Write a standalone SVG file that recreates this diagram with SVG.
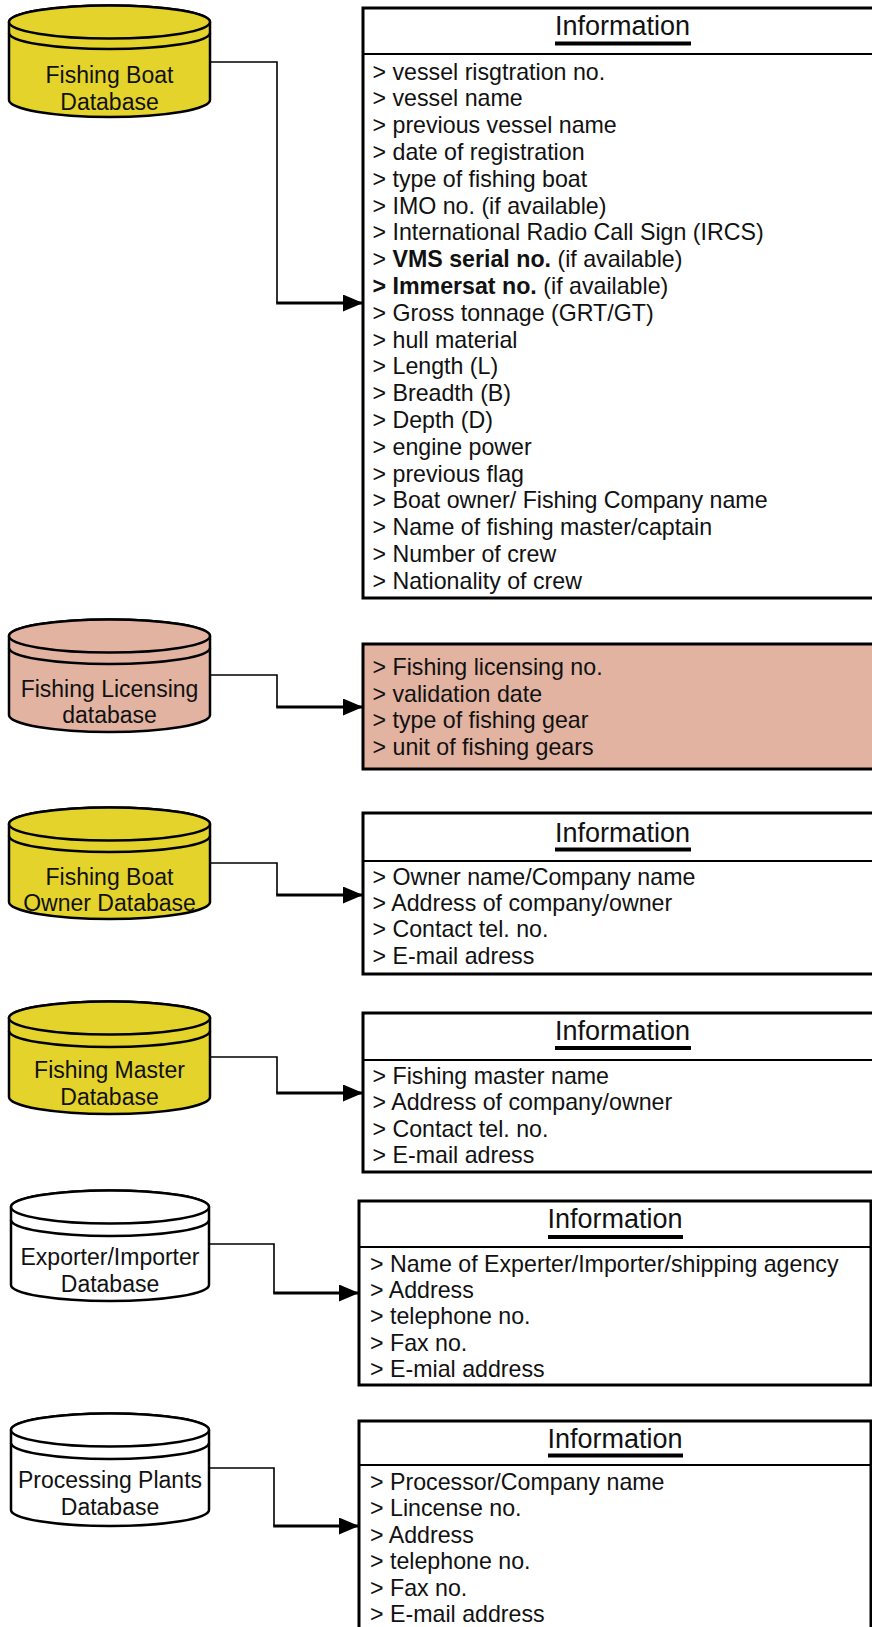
<svg xmlns="http://www.w3.org/2000/svg" width="872" height="1627" viewBox="0 0 872 1627">
  <style>
    text { font-family: "Liberation Sans", Arial, sans-serif; fill: #111; }
    .lbl { font-size: 23px; text-anchor: middle; }
    .item { font-size: 23.2px; }
    .hdr { font-size: 27px; text-anchor: middle; }
    .b { font-weight: bold; }
    .cyl { stroke: #000; stroke-width: 2.5; }
    .yellow { fill: #E3D32B; }
    .pink { fill: #E2B3A1; }
    .white { fill: #fff; }
    .arc { fill: none; stroke: #000; stroke-width: 2.5; }
    .box { fill: #fff; stroke: #000; stroke-width: 3; }
    .boxp { fill: #E2B3A1; stroke: #000; stroke-width: 3; }
    .div { stroke: #000; stroke-width: 2; }
    .ul { fill: #000; }
    .wire { fill: none; stroke: #000; stroke-width: 1.6; }
    .wire-end { fill: none; stroke: #000; stroke-width: 3; marker-end: url(#arrow); }
  </style>
  <defs>
    <marker id="arrow" markerUnits="userSpaceOnUse" viewBox="0 0 20 17" refX="20" refY="8.5" markerWidth="20" markerHeight="17" orient="auto">
      <path d="M0,0 L20,8.5 L0,17 Z" fill="#000"/>
    </marker>
  </defs>

  <!-- database cylinders -->
  <g id="db-fishing-boat">
    <path class="cyl yellow" d="M9,22 V100 A100.5,17 0 0 0 210,100 V22 A100.5,16.5 0 0 0 9,22 Z"/>
    <ellipse class="cyl yellow" cx="109.5" cy="22" rx="100.5" ry="16.5"/>
    <path class="arc" d="M9,33 A100.5,16 0 0 0 210,33"/>
    <text class="lbl" x="109.5" y="83">Fishing Boat</text>
    <text class="lbl" x="109.5" y="110">Database</text>
  </g>

  <g id="db-fishing-licensing">
    <path class="cyl pink" d="M9,636 V715 A100.5,17 0 0 0 210,715 V636 A100.5,16.5 0 0 0 9,636 Z"/>
    <ellipse class="cyl pink" cx="109.5" cy="636" rx="100.5" ry="16.5"/>
    <path class="arc" d="M9,648 A100.5,16 0 0 0 210,648"/>
    <text class="lbl" x="109.5" y="697">Fishing Licensing</text>
    <text class="lbl" x="109.5" y="723">database</text>
  </g>

  <g id="db-boat-owner">
    <path class="cyl yellow" d="M9,824 V902 A100.5,17 0 0 0 210,902 V824 A100.5,16.5 0 0 0 9,824 Z"/>
    <ellipse class="cyl yellow" cx="109.5" cy="824" rx="100.5" ry="16.5"/>
    <path class="arc" d="M9,836 A100.5,16 0 0 0 210,836"/>
    <text class="lbl" x="109.5" y="885">Fishing Boat</text>
    <text class="lbl" x="109.5" y="911">Owner Database</text>
  </g>

  <g id="db-fishing-master">
    <path class="cyl yellow" d="M9,1018 V1097 A100.5,17 0 0 0 210,1097 V1018 A100.5,16.5 0 0 0 9,1018 Z"/>
    <ellipse class="cyl yellow" cx="109.5" cy="1018" rx="100.5" ry="16.5"/>
    <path class="arc" d="M9,1031 A100.5,16 0 0 0 210,1031"/>
    <text class="lbl" x="109.5" y="1078">Fishing Master</text>
    <text class="lbl" x="109.5" y="1105">Database</text>
  </g>

  <g id="db-exporter-importer">
    <path class="cyl white" d="M11,1207 V1285 A99,16 0 0 0 209,1285 V1207 A99,16.5 0 0 0 11,1207 Z"/>
    <ellipse class="cyl white" cx="110" cy="1207" rx="99" ry="16.5"/>
    <path class="arc" d="M11,1220 A99,16 0 0 0 209,1220"/>
    <text class="lbl" x="110" y="1265">Exporter/Importer</text>
    <text class="lbl" x="110" y="1292">Database</text>
  </g>

  <g id="db-processing-plants">
    <path class="cyl white" d="M11,1430 V1510 A99,16 0 0 0 209,1510 V1430 A99,16.5 0 0 0 11,1430 Z"/>
    <ellipse class="cyl white" cx="110" cy="1430" rx="99" ry="16.5"/>
    <path class="arc" d="M11,1443 A99,16 0 0 0 209,1443"/>
    <text class="lbl" x="110" y="1488">Processing Plants</text>
    <text class="lbl" x="110" y="1515">Database</text>
  </g>

  <!-- information boxes -->
  <g id="info-fishing-boat">
    <rect class="box" x="363" y="8" width="519" height="590"/>
    <line class="div" x1="363" y1="54" x2="882" y2="54"/>
    <text class="hdr" x="622.5" y="35">Information</text>
    <rect class="ul" x="555" y="41.5" width="136" height="4"/>
    <text class="item" x="372.5" y="79.5">&gt; vessel risgtration no.</text>
    <text class="item" x="372.5" y="106.3">&gt; vessel name</text>
    <text class="item" x="372.5" y="133.1">&gt; previous vessel name</text>
    <text class="item" x="372.5" y="159.9">&gt; date of registration</text>
    <text class="item" x="372.5" y="186.7">&gt; type of fishing boat</text>
    <text class="item" x="372.5" y="213.5">&gt; IMO no. (if available)</text>
    <text class="item" x="372.5" y="240.3">&gt; International Radio Call Sign (IRCS)</text>
    <text class="item" x="372.5" y="267.1">&gt; <tspan class="b">VMS serial no.</tspan> (if available)</text>
    <text class="item" x="372.5" y="293.9"><tspan class="b">&gt; Immersat no.</tspan> (if available)</text>
    <text class="item" x="372.5" y="320.7">&gt; Gross tonnage (GRT/GT)</text>
    <text class="item" x="372.5" y="347.5">&gt; hull material</text>
    <text class="item" x="372.5" y="374.3">&gt; Length (L)</text>
    <text class="item" x="372.5" y="401.1">&gt; Breadth (B)</text>
    <text class="item" x="372.5" y="427.9">&gt; Depth (D)</text>
    <text class="item" x="372.5" y="454.7">&gt; engine power</text>
    <text class="item" x="372.5" y="481.5">&gt; previous flag</text>
    <text class="item" x="372.5" y="508.3">&gt; Boat owner/ Fishing Company name</text>
    <text class="item" x="372.5" y="535.1">&gt; Name of fishing master/captain</text>
    <text class="item" x="372.5" y="561.9">&gt; Number of crew</text>
    <text class="item" x="372.5" y="588.7">&gt; Nationality of crew</text>
  </g>

  <g id="info-fishing-licensing">
    <rect class="boxp" x="363" y="644" width="519" height="125"/>
    <text class="item" x="372.5" y="675">&gt; Fishing licensing no.</text>
    <text class="item" x="372.5" y="701.7">&gt; validation date</text>
    <text class="item" x="372.5" y="728.3">&gt; type of fishing gear</text>
    <text class="item" x="372.5" y="755">&gt; unit of fishing gears</text>
  </g>

  <g id="info-boat-owner">
    <rect class="box" x="363" y="813" width="519" height="161"/>
    <line class="div" x1="363" y1="861" x2="882" y2="861"/>
    <text class="hdr" x="622.5" y="842">Information</text>
    <rect class="ul" x="555" y="847.5" width="136" height="4"/>
    <text class="item" x="372.5" y="884.5">&gt; Owner name/Company name</text>
    <text class="item" x="372.5" y="911">&gt; Address of company/owner</text>
    <text class="item" x="372.5" y="937.3">&gt; Contact tel. no.</text>
    <text class="item" x="372.5" y="963.6">&gt; E-mail adress</text>
  </g>

  <g id="info-fishing-master">
    <rect class="box" x="363" y="1013" width="519" height="159"/>
    <line class="div" x1="363" y1="1060" x2="882" y2="1060"/>
    <text class="hdr" x="622.5" y="1040">Information</text>
    <rect class="ul" x="555" y="1046" width="136" height="4"/>
    <text class="item" x="372.5" y="1084">&gt; Fishing master name</text>
    <text class="item" x="372.5" y="1110.3">&gt; Address of company/owner</text>
    <text class="item" x="372.5" y="1136.6">&gt; Contact tel. no.</text>
    <text class="item" x="372.5" y="1163">&gt; E-mail adress</text>
  </g>

  <g id="info-exporter-importer">
    <rect class="box" x="359" y="1201" width="512" height="184"/>
    <line class="div" x1="359" y1="1247" x2="871" y2="1247"/>
    <text class="hdr" x="615" y="1228">Information</text>
    <rect class="ul" x="548" y="1235" width="135" height="4"/>
    <text class="item" x="370" y="1272">&gt; Name of Experter/Importer/shipping agency</text>
    <text class="item" x="370" y="1298">&gt; Address</text>
    <text class="item" x="370" y="1324.3">&gt; telephone no.</text>
    <text class="item" x="370" y="1350.6">&gt; Fax no.</text>
    <text class="item" x="370" y="1377">&gt; E-mial address</text>
  </g>

  <g id="info-processing-plants">
    <rect class="box" x="359" y="1421" width="512" height="230"/>
    <line class="div" x1="359" y1="1465" x2="871" y2="1465"/>
    <text class="hdr" x="615" y="1448">Information</text>
    <rect class="ul" x="548" y="1453.5" width="135" height="4"/>
    <text class="item" x="370" y="1489.5">&gt; Processor/Company name</text>
    <text class="item" x="370" y="1516">&gt; Lincense no.</text>
    <text class="item" x="370" y="1542.5">&gt; Address</text>
    <text class="item" x="370" y="1569">&gt; telephone no.</text>
    <text class="item" x="370" y="1595.5">&gt; Fax no.</text>
    <text class="item" x="370" y="1622">&gt; E-mail address</text>
  </g>

  <!-- connectors: database to its information box -->
  <g id="connectors">
    <path class="wire" d="M210,62 H277 V303"/>
    <path class="wire-end" d="M276.2,303 H363"/>
    <path class="wire" d="M210,675 H277 V707"/>
    <path class="wire-end" d="M276.2,707 H363"/>
    <path class="wire" d="M210,863 H277 V895"/>
    <path class="wire-end" d="M276.2,895 H363"/>
    <path class="wire" d="M210,1057 H277 V1093"/>
    <path class="wire-end" d="M276.2,1093 H363"/>
    <path class="wire" d="M209,1244 H274 V1293"/>
    <path class="wire-end" d="M273.2,1293 H359"/>
    <path class="wire" d="M209,1468 H274 V1526"/>
    <path class="wire-end" d="M273.2,1526 H359"/>
  </g>
</svg>
